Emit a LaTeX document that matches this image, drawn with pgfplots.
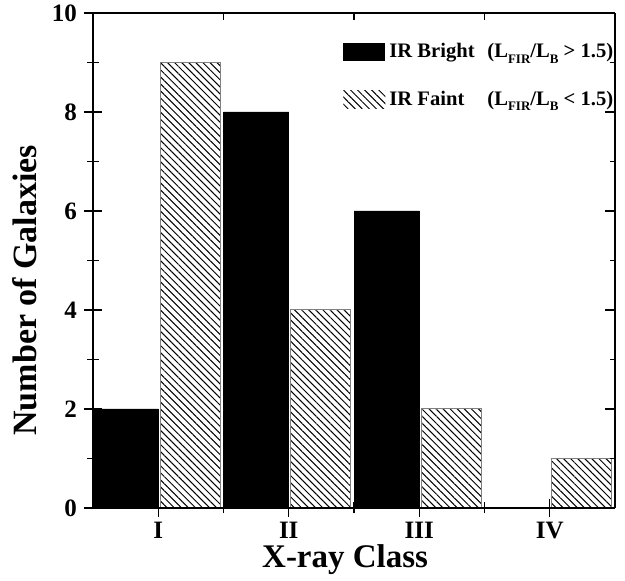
\documentclass[border=0pt]{standalone}
\usepackage{fontspec}
\setmainfont{Liberation Serif}
\usepackage{pgfplots}
\pgfplotsset{compat=1.18}
\usetikzlibrary{patterns.meta}
\newcommand{\sub}[1]{\raisebox{-2.6pt}{\fontsize{6.5}{6.5}\selectfont #1}}
\begin{document}
\begin{tikzpicture}
\begin{axis}[
  scale only axis, width=261pt, height=247.5pt,
  xmin=0.5, xmax=4.5, ymin=0, ymax=10,
  axis x line*=bottom, axis y line*=left,
  axis line style={line width=0.9pt},
  tick align=center,
  tick style={black, line width=0.6pt},
  major tick length=9pt, minor tick length=5.5pt,
  xtick={1,2,3,4}, xticklabels={I,II,III,IV},
  minor xtick={1.5,2.5,3.5},
  ytick={0,2,4,6,8,10}, minor ytick={1,3,5,7,9},
  /pgf/number format/assume math mode=true,
  xticklabel style={font=\fontsize{12.5}{12.5}\selectfont\bfseries, yshift=1pt},
  yticklabel style={font=\fontsize{12.5}{12.5}\selectfont\bfseries},
  xlabel={X-ray Class}, ylabel={Number of Galaxies},
  xlabel style={font=\fontsize{16.5}{16.5}\selectfont\bfseries, at={(axis description cs:0.483,-0.1212)}, anchor=base},
  ylabel style={font=\fontsize{17}{17}\selectfont\bfseries, at={(axis description cs:-0.130,0.44)}, anchor=center},
  axis on top,
  legend style={draw=none, fill=none, at={(axis description cs:0.479,0.947)}, anchor=north west,
    font=\fontsize{10.3}{10.3}\selectfont\bfseries, row sep=11pt, inner sep=0pt,
    /tikz/every even column/.append style={column sep=2.5pt}},
  legend cell align=left,
  legend image code/.code={\path[#1,draw=none] (0pt,-4.5pt) rectangle (21pt,4.5pt);},
]
\addplot[ybar, bar width=0.5, bar shift=-0.25, fill=black, draw=black, line width=0.4pt]
  coordinates {(1,2) (2,8) (3,6) (4,0)};
\addlegendentry{\makebox[49pt][l]{IR Bright}(L\sub{FIR}/L\sub{B} > 1.5)}
\addplot[ybar, bar width=0.46, bar shift=0.246, draw=gray, line width=0.5pt,
  pattern={Lines[angle=-45,distance=2.5pt,line width=0.5pt]}, pattern color=black]
  coordinates {(1,9) (2,4) (3,2) (4,1)};
\addlegendentry{\makebox[49pt][l]{IR Faint}(L\sub{FIR}/L\sub{B} < 1.5)}
\end{axis}
\begin{axis}[
  scale only axis, width=261pt, height=247.5pt,
  xmin=0.5, xmax=4.5, ymin=0, ymax=10,
  axis x line*=top, axis y line*=right,
  axis line style={line width=0.7pt},
  tick align=inside,
  tick style={black, line width=0.6pt},
  major tick length=5pt, minor tick length=2.5pt,
  xtick={1.5,2.5,3.5}, xticklabels={},
  xtick style={/pgfplots/major tick length=3.5pt},
  ytick={0,2,4,6,8,10}, minor ytick={1,3,5,7,9}, yticklabels={},
]
\addplot[draw=none] coordinates {(1,0)};
\end{axis}
\pgfresetboundingbox
\path ([shift={(-46.5pt,-36.5pt)}]current axis.south west) rectangle ([shift={(5pt,6.5pt)}]current axis.north east);
\end{tikzpicture}
\end{document}
